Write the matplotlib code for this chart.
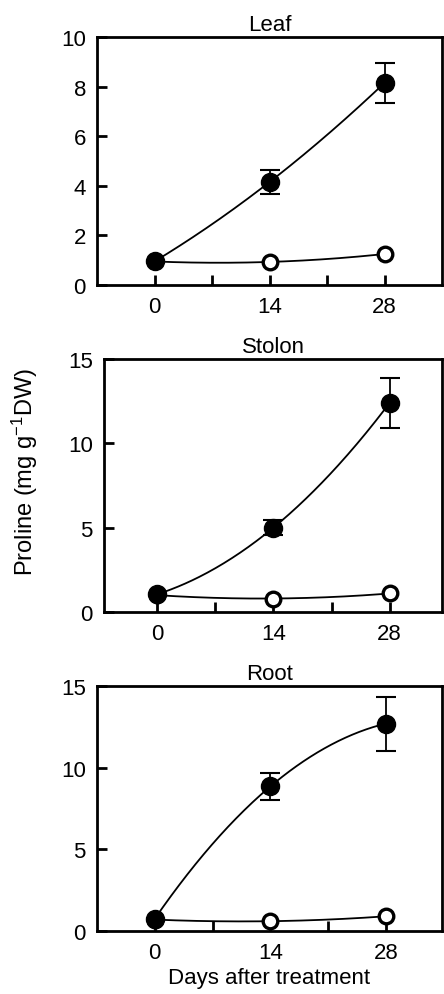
import numpy as np
import matplotlib
matplotlib.use("Agg")
import matplotlib.pyplot as plt

plt.rcParams['font.family'] = ['Liberation Sans', 'DejaVu Sans']
plt.rcParams['mathtext.fontset'] = 'custom'
plt.rcParams['mathtext.rm'] = 'Liberation Sans'
plt.rcParams['mathtext.it'] = 'Liberation Sans'
plt.rcParams['mathtext.default'] = 'regular'

days = [0, 14, 28]
panels = ["Leaf", "Stolon", "Root"]

leaf_treat = [0.95, 4.15, 8.15]
leaf_treat_err = [0.0, 0.5, 0.8]
leaf_ctrl = [0.95, 0.93, 1.25]

stolon_treat = [1.05, 5.0, 12.4]
stolon_treat_err = [0.0, 0.45, 1.5]
stolon_ctrl = [1.0, 0.8, 1.1]

root_treat = [0.75, 8.85, 12.7]
root_treat_err = [0.0, 0.8, 1.65]
root_ctrl = [0.7, 0.6, 0.9]

yticks_list = [[0, 2, 4, 6, 8, 10], [0, 5, 10, 15], [0, 5, 10, 15]]
ylims = [(0, 10), (0, 15), (0, 15)]

W, H = 444, 995
fig = plt.figure(figsize=(W / 100, H / 100), dpi=100)

# pixel boxes: left, right, top, bottom
boxes = [(97, 442, 38, 286), (104, 442, 360, 613), (97, 442, 687, 932)]
xlims = [(-7, 35), (-6.4, 34.3), (-7, 34.8)]

data = [(leaf_treat, leaf_treat_err, leaf_ctrl),
        (stolon_treat, stolon_treat_err, stolon_ctrl),
        (root_treat, root_treat_err, root_ctrl)]

fs = 16
for i, (name, (tr, te, ct)) in enumerate(zip(panels, data)):
    l, r, t, b = boxes[i]
    ax = fig.add_axes([l / W, 1 - b / H, (r - l) / W, (b - t) / H])
    xs = np.linspace(0, 28, 200)
    # smooth curves through the three points
    for ys in (ct, tr):
        c = np.polyfit(days, ys, 2)
        ax.plot(xs, np.polyval(c, xs), color='black', lw=1.3, zorder=2)
    ax.errorbar(days[1:], tr[1:], yerr=te[1:], fmt='none', ecolor='black',
                elinewidth=1.3, capsize=7, capthick=1.5, zorder=3)
    ax.plot(days, ct, 'o', ms=10.5, mfc='white', mec='black', mew=2.4, zorder=4)
    ax.plot(days, tr, 'o', ms=13, mfc='black', mec='black', zorder=5)

    ax.set_xlim(*xlims[i])
    ax.set_ylim(*ylims[i])
    ax.set_xticks(days)
    ax.set_xticks([7, 21], minor=True)
    ax.set_yticks(yticks_list[i])
    ax.tick_params(axis='both', which='both', direction='in', length=7,
                   width=2, labelsize=fs, pad=8, top=False, right=False)
    for sp in ax.spines.values():
        sp.set_linewidth(2)
    ax.set_title(name, fontsize=fs, pad=5)
    if i == 2:
        ax.set_xlabel("Days after treatment", fontsize=fs, labelpad=3)

fig.text(25 / W, 1 - 472 / H, "Proline (mg g$^{-1}$DW)", rotation=90,
         ha='center', va='center', fontsize=fs + 1)

fig.savefig("out.png", dpi=100)
